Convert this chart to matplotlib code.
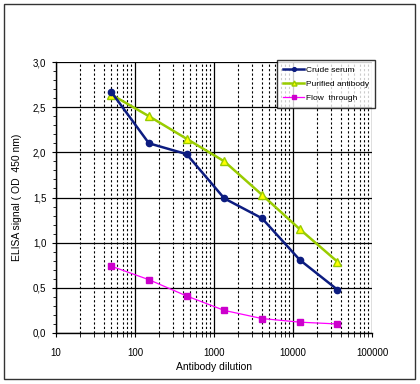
import matplotlib
matplotlib.use("Agg")
import matplotlib.pyplot as plt
from matplotlib.ticker import FixedLocator, FuncFormatter, LogLocator, NullFormatter, MultipleLocator
from matplotlib.patches import Rectangle

dilution = [50, 150, 450, 1350, 4050, 12150, 36450]
crude = [2.67, 2.10, 1.98, 1.49, 1.27, 0.81, 0.48]
purified = [2.64, 2.40, 2.15, 1.90, 1.53, 1.15, 0.79]
flow = [0.74, 0.59, 0.41, 0.25, 0.16, 0.12, 0.10]
labels = ["Crude serum", "Purified antibody", "Flow  through"]

plt.rcParams['font.family'] = ['Liberation Sans', 'DejaVu Sans']
fig = plt.figure(figsize=(4.2, 3.84), dpi=100)
ax = fig.add_axes([56/420, 1-333/384, (372-56)/420, (333-62)/384])

ax.plot(dilution, crude, color='#0c1c80', lw=1.8, marker='o', ms=4.5,
        mfc='#0c1c80', mec='#0c1c80', label=labels[0], zorder=4)
ax.plot(dilution, purified, color='#99cc00', lw=1.8, marker='^', ms=6,
        mfc='#ffff00', mec='#99cc00', label=labels[1], zorder=3)
ax.plot(dilution, flow, color='#ff00ff', lw=0.9, marker='s', ms=4,
        mfc='#cc00cc', mec='#cc00cc', label=labels[2], zorder=3)

ax.set_xscale('log')
ax.set_xlim(10, 100000)
ax.set_ylim(0, 3.0)
ax.xaxis.set_major_locator(FixedLocator([10, 100, 1000, 10000, 100000]))
ax.xaxis.set_major_formatter(FuncFormatter(lambda v, p: f"{int(round(v))}"))
ax.xaxis.set_minor_locator(LogLocator(base=10, subs=range(2, 10)))
ax.xaxis.set_minor_formatter(NullFormatter())
ax.yaxis.set_major_locator(MultipleLocator(0.5))
ax.yaxis.set_minor_locator(MultipleLocator(0.1))
ax.yaxis.set_major_formatter(FuncFormatter(lambda v, p: f"{v:.1f}".replace('.', ',')))

ax.grid(True, which='major', axis='both', color='black', lw=0.9)
ax.grid(True, which='minor', axis='x', color='black', lw=0.8, ls=(0, (2, 2)))
ax.set_axisbelow(True)
for s in ['top', 'right']:
    ax.spines[s].set_visible(False)
for s in ['left', 'bottom']:
    ax.spines[s].set_linewidth(1.0)
ax.tick_params(which='major', labelsize=7, pad=4)
ax.tick_params(axis='y', which='major', direction='out', length=3)
ax.tick_params(axis='y', which='minor', direction='out', length=2)
ax.tick_params(axis='x', which='both', direction='out', length=3)
ax.tick_params(axis='x', which='major', pad=8)

ax.set_xlabel("Antibody dilution", fontsize=7.5, labelpad=3)
ax.set_ylabel("ELISA signal ( OD  450 nm)", fontsize=7.5, labelpad=8)

leg = ax.legend(loc='upper right', bbox_to_anchor=(375/420, 1-60/384), bbox_transform=fig.transFigure,
                fontsize=6, frameon=True, fancybox=False, edgecolor='black',
                handlelength=2.6, handletextpad=0.2, borderpad=0.7, labelspacing=0.75,
                borderaxespad=0, markerscale=0.6)
leg.get_frame().set_linewidth(1.0)

fig.patches.append(Rectangle((4/420, 1-379/384), 411/420, 375/384, transform=fig.transFigure,
                             fill=False, edgecolor='#333333', lw=1.0))

fig.savefig("out.png", dpi=100)
